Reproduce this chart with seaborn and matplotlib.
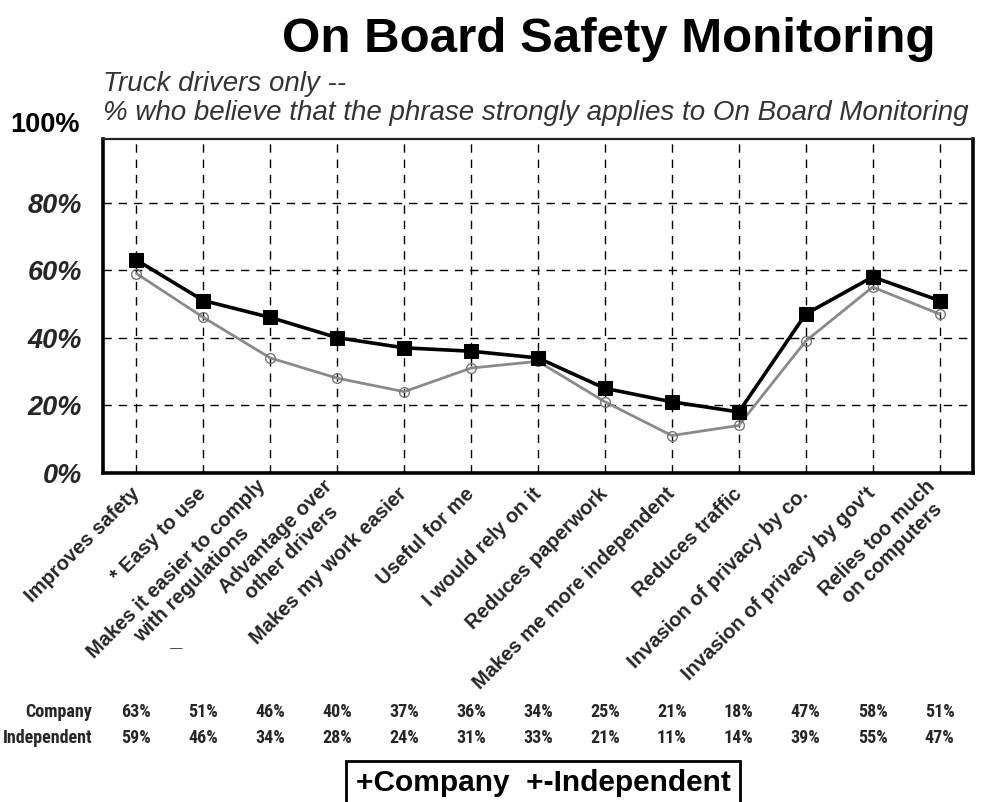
import numpy as np
import pandas as pd
import matplotlib
matplotlib.use("Agg")
import matplotlib.pyplot as plt
import matplotlib.transforms as mtransforms
from matplotlib.patches import Rectangle
from matplotlib import font_manager
import seaborn as sns

# ---- data -----------------------------------------------------------------
categories = [
    "Improves safety",
    "* Easy to use",
    "Makes it easier to comply\nwith regulations",
    "Advantage over\nother drivers",
    "Makes my work easier",
    "Useful for me",
    "I would rely on it",
    "Reduces paperwork",
    "Makes me more independent",
    "Reduces traffic",
    "Invasion of privacy by co.",
    "Invasion of privacy by gov't",
    "Relies too much\non computers",
]
company = [63, 51, 46, 40, 37, 36, 34, 25, 21, 18, 47, 58, 51]
independent = [59, 46, 34, 28, 24, 31, 33, 21, 11, 14, 39, 55, 47]
y_ticks = [0, 20, 40, 60, 80]
y_tick_labels = ["0%", "20%", "40%", "60%", "80%"]

title = "On Board Safety Monitoring"
subtitle_1 = "Truck drivers only --"
subtitle_2 = "% who believe that the phrase strongly applies to On Board Monitoring"

# ---- style ----------------------------------------------------------------
sns.set_theme(style="white")
plt.rcParams["font.family"] = ["Liberation Sans", "DejaVu Sans"]

# a condensed face for the value table, if one is available
installed = {f.name for f in font_manager.fontManager.ttflist}
table_font, table_size = ["Liberation Sans", "DejaVu Sans"], 11.5
for cand in ["Liberation Sans Narrow", "Roboto Condensed", "Open Sans Condensed",
             "DejaVu Sans Condensed"]:
    if cand in installed:
        table_font, table_size = [cand, "DejaVu Sans"], 13
        break

W, H = 998, 802
fig = plt.figure(figsize=(W / 100, H / 100), dpi=100)

def fx(px):
    return px / W

def fy(py):
    return 1 - py / H

ax_left, ax_right, ax_top, ax_bottom = 103, 973, 139, 472.7
ax = fig.add_axes([fx(ax_left), fy(ax_bottom), fx(ax_right - ax_left),
                   (ax_bottom - ax_top) / H])

df = pd.DataFrame({
    "pos": np.arange(len(categories)),
    "category": categories,
    "Company": company,
    "Independent": independent,
})

sns.lineplot(data=df, x="pos", y="Independent", ax=ax, sort=False,
             color="#8a8a8a", linewidth=2.0, marker="o", markersize=7,
             markerfacecolor="none", markeredgecolor="#777777",
             markeredgewidth=1.0, zorder=3)
sns.lineplot(data=df, x="pos", y="Company", ax=ax, sort=False,
             color="black", linewidth=2.6, marker="s", markersize=9.5,
             markerfacecolor="black", markeredgecolor="black", zorder=4)

ax.set_xlim(-0.5, len(categories) - 0.5)
ax.set_ylim(0, (ax_bottom - ax_top) / 3.375)
ax.set_xlabel("")
ax.set_ylabel("")

ax.set_yticks(y_ticks)
ax.set_yticklabels(y_tick_labels, fontsize=19.5, fontweight="bold",
                   fontstyle="italic")
ax.set_xticks(df["pos"])
ax.set_xticklabels(df["category"], fontsize=14.5, fontweight="bold",
                   rotation=45, ha="right", va="center",
                   rotation_mode="anchor", multialignment="center")
ax.tick_params(axis="y", length=0, pad=15)
ax.tick_params(axis="x", length=0, pad=13)

ax.grid(True, color="black", linestyle=(0, (6, 5)), linewidth=1.0)
for side in ["left", "bottom", "right"]:
    ax.spines[side].set_linewidth(2.6)
    ax.spines[side].set_color("black")
ax.spines["top"].set_linewidth(1.6)
ax.spines["top"].set_color("#222222")

# ---- titles ----------------------------------------------------------------
fig.text(fx(609), fy(39), title, ha="center", va="center",
         fontsize=35.5, fontweight="bold", color="black")
fig.text(fx(103), fy(84), subtitle_1, ha="left", va="center",
         fontsize=20, fontstyle="italic", color="#333333")
fig.text(fx(103), fy(113), subtitle_2, ha="left", va="center",
         fontsize=20, fontstyle="italic", color="#333333")
fig.text(fx(80), fy(125), "100%", ha="right", va="center",
         fontsize=19.5, fontweight="bold", color="black")

# stray dash mark under the third label
fig.text(fx(176), fy(649), "\u2014", ha="center", va="center",
         fontsize=9, color="#333333")

# ---- value table -----------------------------------------------------------
trans = mtransforms.blended_transform_factory(ax.transData, fig.transFigure)
rows = [("Company", company, 712), ("Independent", independent, 738)]
for name, values, ypx in rows:
    fig.text(fx(92), fy(ypx), name, ha="right", va="center",
             family=table_font, fontsize=table_size, fontweight="bold")
    for pos, v in zip(df["pos"], values):
        ax.text(pos, fy(ypx), f"{v}%", transform=trans, ha="center",
                va="center", family=table_font, fontsize=table_size,
                fontweight="bold", clip_on=False)

# ---- legend box ------------------------------------------------------------
fig.add_artist(Rectangle((fx(346), fy(805)), fx(740 - 346), (805 - 761) / H,
                         transform=fig.transFigure, fill=False,
                         edgecolor="black", linewidth=2.0))
fig.text(fx(543), fy(783), "+Company  +-Independent", ha="center",
         va="center", fontsize=21.5, fontweight="bold", color="black")

fig.savefig("out.png", dpi=100)
